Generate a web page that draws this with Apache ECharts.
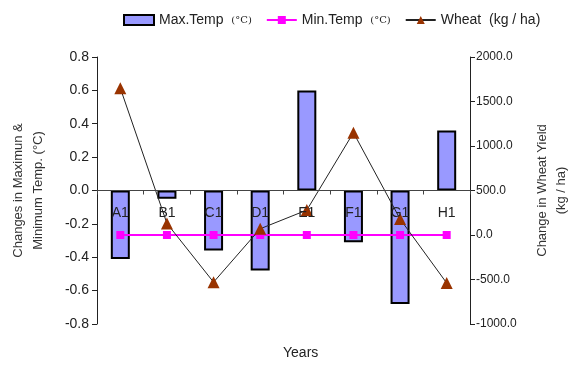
<!DOCTYPE html>
<html><head><meta charset="utf-8">
<script src="https://cdn.jsdelivr.net/npm/echarts@6/dist/echarts.min.js"></script>
<style>html,body{margin:0;padding:0;background:#fff}#c{width:569px;height:365px}</style>
</head><body><div id="c"></div>
<script>
const categories = ['A1','B1','C1','D1','E1','F1','G1','H1'];
const maxTemp = [-0.41,-0.05,-0.36,-0.48,0.60,-0.31,-0.68,0.36];
const minTemp = [0,0,0,0,0,0,0,0];
const wheat = [1650,130,-530,70,280,1150,180,-540];
const leftTicks = {min:-0.8,max:0.8,interval:0.2};
const rightTicks = {min:-1000,max:2000,interval:500};

const font = 'Liberation Sans, Arial, sans-serif';
const chart = echarts.init(document.getElementById('c'));
chart.setOption({
  animation:false,
  textStyle:{fontFamily:font},
  title:{text:'Years',left:278,top:341,textStyle:{fontSize:14,fontWeight:'normal',color:'#222',fontFamily:font}},
  legend:{
    top:8,left:118,itemWidth:30,itemHeight:10,itemGap:14,
    textStyle:{fontSize:14,color:'#222',fontFamily:font,rich:{s:{fontSize:10,color:'#222',fontFamily:'DejaVu Serif'}}},
    formatter:function(n){ if(n==='Wheat') return 'Wheat  (kg / ha)'; return n+'  {s|(°C)}'; },
    data:[{name:'Max.Temp',icon:'rect'},{name:'Min.Temp'},{name:'Wheat'}]
  },
  grid:{left:97,right:99,top:57,bottom:41,outerBoundsMode:'none',containLabel:false},
  xAxis:{type:'category',data:categories,offset:-133.5,z:10,
    axisLine:{onZero:false,lineStyle:{color:'#444',width:1}},
    axisTick:{show:true,interval:0,length:4,lineStyle:{color:'#444'}},
    axisLabel:{margin:16,fontSize:14,color:'#222',fontFamily:font},
    splitLine:{show:false}},
  yAxis:[
    {type:'value',min:leftTicks.min,max:leftTicks.max,interval:leftTicks.interval,
     name:'Changes in Maximun &\nMinimum Temp. (°C)',nameLocation:'middle',nameGap:49,nameRotate:90,
     nameTextStyle:{fontSize:13,color:'#333',lineHeight:20,fontFamily:font},
     axisLine:{show:true,lineStyle:{color:'#222'}},axisTick:{show:true,length:5,lineStyle:{color:'#222'}},
     axisLabel:{fontSize:14,color:'#222',margin:8,formatter:v=>v.toFixed(1)},
     splitLine:{show:false}},
    {type:'value',min:rightTicks.min,max:rightTicks.max,interval:rightTicks.interval,position:'right',
     name:'Change in Wheat Yield\n(kg / ha)',nameLocation:'middle',nameGap:63,nameRotate:90,
     nameTextStyle:{fontSize:13,color:'#333',lineHeight:19,fontFamily:font},
     axisLine:{show:true,lineStyle:{color:'#222'}},axisTick:{show:true,length:5,lineStyle:{color:'#222'}},
     axisLabel:{fontSize:12,color:'#222',margin:6,formatter:v=>v.toFixed(1)},
     splitLine:{show:false}}
  ],
  series:[
    {name:'Max.Temp',type:'bar',data:maxTemp,barWidth:19,yAxisIndex:0,
     itemStyle:{color:'#9999FF',borderColor:'#000',borderWidth:2}},
    {name:'Min.Temp',type:'line',data:minTemp,yAxisIndex:1,symbol:'rect',symbolSize:8,
     lineStyle:{color:'#FF00FF',width:2},itemStyle:{color:'#FF00FF'}},
    {name:'Wheat',type:'line',data:wheat,yAxisIndex:1,symbol:'triangle',symbolSize:12,
     lineStyle:{color:'#222',width:1},itemStyle:{color:'#993300'}}
  ]
});
</script></body></html>
